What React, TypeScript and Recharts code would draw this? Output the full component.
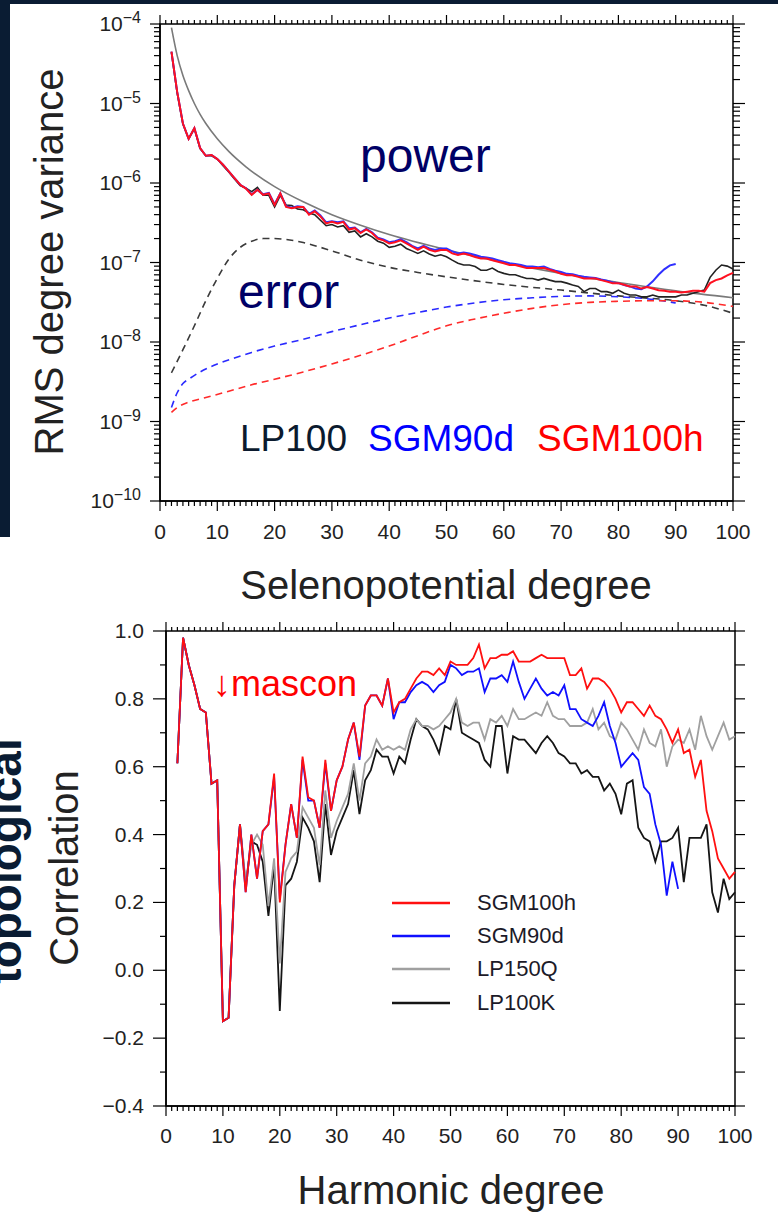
import React from 'react'
import { LineChart, Line, XAxis, YAxis, ReferenceArea, Legend } from 'recharts'

const NAVY = '#0a1c33'
const FONT = '"Liberation Sans", Arial, Helvetica, sans-serif'

// plot boxes (px)
const PW1 = 573
const PH1 = 477
const PW2 = 569
const PH2 = 475

// harmonic degrees
const DEG = Array.from({ length: 99 }, (_, i) => i + 2)
const DEG_TICKS = Array.from({ length: 101 }, (_, i) => i)

// ---- top panel: RMS degree variance ----
const RED_POW = [
  4.5e-5, 1.4e-5, 5.6e-6, 3.6e-6, 4.9e-6, 2.75e-6, 2.2e-6, 2.25e-6, 2.0e-6, 1.7e-6,
  1.4e-6, 1.15e-6, 9.5e-7, 8.5e-7, 7.1e-7, 8.2e-7, 7.1e-7, 7.4e-7, 5.3e-7, 7.4e-7,
  5.0e-7, 4.8e-7, 5.0e-7, 5.0e-7, 4.0e-7, 4.4e-7, 3.8e-7, 3.1e-7, 3.25e-7, 3.1e-7,
  3.25e-7, 2.6e-7, 2.7e-7, 2.35e-7, 2.6e-7, 2.35e-7, 2.0e-7, 1.9e-7, 1.74e-7, 1.8e-7,
  1.9e-7, 1.74e-7, 1.58e-7, 1.44e-7, 1.58e-7, 1.44e-7, 1.38e-7, 1.44e-7, 1.44e-7, 1.3e-7,
  1.24e-7, 1.3e-7, 1.24e-7, 1.17e-7, 1.12e-7, 1.12e-7, 1.07e-7, 1.02e-7, 9.8e-8, 9.3e-8,
  9.3e-8, 8.9e-8, 8.5e-8, 8.5e-8, 8.5e-8, 8.5e-8, 8.1e-8, 7.7e-8, 7.2e-8, 6.9e-8,
  6.9e-8, 6.6e-8, 6.3e-8, 6.3e-8, 6.3e-8, 6.0e-8, 5.75e-8, 5.5e-8, 5.5e-8, 5.25e-8,
  5.0e-8, 5.0e-8, 4.7e-8, 4.9e-8, 4.7e-8, 4.47e-8, 4.4e-8, 4.3e-8, 4.3e-8, 4.2e-8,
  4.3e-8, 4.4e-8, 4.4e-8, 4.3e-8, 5.5e-8, 6.0e-8, 6.3e-8, 6.9e-8, 7.4e-8,
]
const BLUE_POW = [
  4.5e-5, 1.4e-5, 5.6e-6, 3.6e-6, 4.9e-6, 2.75e-6, 2.2e-6, 2.25e-6, 2.0e-6, 1.7e-6,
  1.4e-6, 1.15e-6, 9.5e-7, 8.6e-7, 7.2e-7, 8.2e-7, 7.2e-7, 7.5e-7, 5.4e-7, 7.4e-7,
  5.1e-7, 4.9e-7, 5.1e-7, 5.0e-7, 4.1e-7, 4.5e-7, 3.9e-7, 3.2e-7, 3.3e-7, 3.2e-7,
  3.3e-7, 2.7e-7, 2.75e-7, 2.4e-7, 2.65e-7, 2.4e-7, 2.05e-7, 1.95e-7, 1.8e-7, 1.85e-7,
  1.95e-7, 1.8e-7, 1.62e-7, 1.5e-7, 1.62e-7, 1.5e-7, 1.44e-7, 1.5e-7, 1.5e-7, 1.38e-7,
  1.3e-7, 1.34e-7, 1.3e-7, 1.24e-7, 1.18e-7, 1.16e-7, 1.12e-7, 1.07e-7, 1.02e-7, 9.8e-8,
  9.6e-8, 9.3e-8, 8.9e-8, 8.9e-8, 8.7e-8, 8.9e-8, 8.3e-8, 7.9e-8, 7.6e-8, 7.2e-8,
  7.1e-8, 6.8e-8, 6.6e-8, 6.5e-8, 6.4e-8, 6.1e-8, 5.9e-8, 5.6e-8, 5.5e-8, 5.2e-8,
  5.0e-8, 4.7e-8, 4.6e-8, 5.0e-8, 5.8e-8, 7.0e-8, 8.2e-8, 9.2e-8, 9.6e-8,
]
const BLACK_POW = [
  4.4e-5, 1.35e-5, 5.5e-6, 3.6e-6, 4.8e-6, 2.7e-6, 2.2e-6, 2.2e-6, 2.0e-6, 1.65e-6,
  1.38e-6, 1.12e-6, 9.3e-7, 8.6e-7, 7.8e-7, 8.8e-7, 7.0e-7, 7.0e-7, 5.0e-7, 7.0e-7,
  5.3e-7, 5.2e-7, 4.7e-7, 4.6e-7, 4.2e-7, 4.0e-7, 3.4e-7, 2.9e-7, 3.0e-7, 2.8e-7,
  2.9e-7, 2.4e-7, 2.5e-7, 2.1e-7, 2.3e-7, 2.1e-7, 1.85e-7, 1.75e-7, 1.55e-7, 1.6e-7,
  1.7e-7, 1.5e-7, 1.4e-7, 1.3e-7, 1.4e-7, 1.28e-7, 1.2e-7, 1.25e-7, 1.18e-7, 1.07e-7,
  9.8e-8, 9.3e-8, 9.3e-8, 8.9e-8, 8.0e-8, 8.0e-8, 8.5e-8, 7.7e-8, 7.3e-8, 7.0e-8,
  7.0e-8, 6.6e-8, 6.3e-8, 6.3e-8, 6.0e-8, 6.3e-8, 6.0e-8, 5.75e-8, 5.75e-8, 5.5e-8,
  5.2e-8, 5.0e-8, 4.3e-8, 4.7e-8, 4.7e-8, 4.3e-8, 4.3e-8, 4.1e-8, 4.5e-8, 4.1e-8,
  3.9e-8, 3.9e-8, 3.7e-8, 3.7e-8, 3.9e-8, 3.7e-8, 3.7e-8, 3.7e-8, 3.7e-8, 3.9e-8,
  3.9e-8, 4.1e-8, 4.3e-8, 4.5e-8, 6.5e-8, 8.0e-8, 9.3e-8, 9.0e-8, 8.3e-8,
]
const KAULA_DEG = [2, 3, 4, 5, 6, 7, 8, 10, 12, 15, 20, 25, 30, 35, 40, 50, 60, 70, 80, 90, 100]
const KAULA = [
  9e-5, 4e-5, 2.25e-5, 1.45e-5, 1.0e-5, 7.3e-6, 5.6e-6, 3.6e-6, 2.5e-6, 1.6e-6,
  9e-7, 5.8e-7, 4.0e-7, 2.95e-7, 2.25e-7, 1.45e-7, 1.0e-7, 7.3e-8, 5.6e-8, 4.4e-8, 3.6e-8,
]
const BLACK_ERR_DEG = [2, 4, 6, 8, 10, 12, 14, 16, 18, 20, 22, 25, 30, 35, 40, 45, 50, 60, 70, 80, 90, 95, 100]
const BLACK_ERR = [
  4.1e-9, 8e-9, 1.6e-8, 3.3e-8, 6.3e-8, 1.1e-7, 1.55e-7, 1.85e-7, 2.0e-7, 2.0e-7, 1.95e-7, 1.78e-7,
  1.4e-7, 1.07e-7, 8.7e-8, 7.5e-8, 6.6e-8, 5.3e-8, 4.5e-8, 3.8e-8, 3.3e-8, 2.9e-8, 2.3e-8,
]
const BLUE_ERR_DEG = [2, 3, 4, 5, 7, 10, 13, 16, 20, 25, 30, 35, 40, 45, 50, 55, 60, 65, 70, 75, 80, 85, 90]
const BLUE_ERR = [
  1.5e-9, 2.3e-9, 3.0e-9, 3.4e-9, 4.2e-9, 5.3e-9, 6.3e-9, 7.4e-9, 8.9e-9, 1.08e-8, 1.35e-8, 1.65e-8,
  2.0e-8, 2.35e-8, 2.75e-8, 3.1e-8, 3.4e-8, 3.6e-8, 3.75e-8, 3.8e-8, 3.7e-8, 3.5e-8, 3.1e-8,
]
const RED_ERR_DEG = [2, 3, 5, 8, 12, 16, 20, 25, 30, 35, 40, 45, 50, 55, 60, 65, 70, 75, 80, 85, 90, 95, 100]
const RED_ERR = [
  1.3e-9, 1.5e-9, 1.75e-9, 2.0e-9, 2.4e-9, 2.9e-9, 3.4e-9, 4.2e-9, 5.3e-9, 6.8e-9, 8.9e-9, 1.2e-8,
  1.6e-8, 1.95e-8, 2.3e-8, 2.65e-8, 2.95e-8, 3.15e-8, 3.25e-8, 3.3e-8, 3.3e-8, 3.15e-8, 2.8e-8,
]
const LOG_EXP = [-10, -9, -8, -7, -6, -5]
const MANT = [1, 2, 3, 4, 5, 6, 7, 8, 9]
const LOG_TICKS = [...LOG_EXP.flatMap(e => MANT.map(m => m * 10 ** e)), 1e-4]

// ---- bottom panel: correlation ----
const RED_COR = [
  0.61, 0.98, 0.90, 0.84, 0.77, 0.76, 0.55, 0.56, -0.15, -0.14,
  0.25, 0.43, 0.23, 0.40, 0.27, 0.41, 0.43, 0.58, 0.20, 0.37,
  0.49, 0.39, 0.63, 0.51, 0.50, 0.42, 0.62, 0.47, 0.56, 0.60,
  0.68, 0.73, 0.63, 0.78, 0.81, 0.81, 0.78, 0.86, 0.76, 0.79,
  0.80, 0.83, 0.86, 0.88, 0.88, 0.87, 0.89, 0.87, 0.91, 0.90,
  0.90, 0.90, 0.92, 0.96, 0.89, 0.92, 0.92, 0.93, 0.93, 0.94,
  0.91, 0.91, 0.91, 0.92, 0.93, 0.92, 0.92, 0.92, 0.92, 0.87,
  0.87, 0.89, 0.83, 0.86, 0.86, 0.85, 0.83, 0.80, 0.76, 0.79,
  0.79, 0.77, 0.75, 0.78, 0.75, 0.74, 0.71, 0.67, 0.71, 0.64,
  0.65, 0.57, 0.62, 0.47, 0.41, 0.33, 0.30, 0.27, 0.29,
]
const BLUE_COR = [
  0.61, 0.98, 0.90, 0.84, 0.77, 0.76, 0.55, 0.56, -0.15, -0.14,
  0.25, 0.43, 0.23, 0.40, 0.27, 0.41, 0.43, 0.57, 0.21, 0.37,
  0.49, 0.39, 0.62, 0.50, 0.50, 0.42, 0.61, 0.47, 0.56, 0.60,
  0.68, 0.73, 0.62, 0.78, 0.81, 0.81, 0.78, 0.86, 0.74, 0.79,
  0.79, 0.82, 0.84, 0.85, 0.84, 0.82, 0.84, 0.85, 0.90, 0.89,
  0.87, 0.88, 0.88, 0.89, 0.82, 0.86, 0.86, 0.87, 0.85, 0.91,
  0.85, 0.80, 0.83, 0.86, 0.83, 0.81, 0.82, 0.81, 0.84, 0.77,
  0.77, 0.74, 0.73, 0.72, 0.75, 0.79, 0.72, 0.67, 0.60, 0.62,
  0.64, 0.62, 0.54, 0.52, 0.43, 0.37, 0.22, 0.32, 0.24,
]
const GRAY_COR = [
  0.61, 0.98, 0.90, 0.84, 0.77, 0.76, 0.55, 0.56, -0.15, -0.14,
  0.25, 0.43, 0.26, 0.37, 0.40, 0.37, 0.19, 0.33, 0.02, 0.29,
  0.33, 0.35, 0.48, 0.45, 0.42, 0.31, 0.53, 0.39, 0.44, 0.48,
  0.52, 0.61, 0.50, 0.61, 0.63, 0.68, 0.65, 0.66, 0.65, 0.66,
  0.65, 0.71, 0.74, 0.72, 0.72, 0.71, 0.72, 0.74, 0.76, 0.80,
  0.73, 0.72, 0.73, 0.73, 0.68, 0.74, 0.73, 0.75, 0.72, 0.77,
  0.74, 0.74, 0.75, 0.76, 0.75, 0.79, 0.75, 0.74, 0.74, 0.72,
  0.72, 0.72, 0.73, 0.77, 0.71, 0.73, 0.69, 0.68, 0.73, 0.71,
  0.68, 0.65, 0.71, 0.67, 0.66, 0.71, 0.60, 0.66, 0.68, 0.67,
  0.71, 0.65, 0.75, 0.69, 0.65, 0.69, 0.73, 0.68, 0.69,
]
const BLACK_COR = [
  0.61, 0.98, 0.90, 0.84, 0.77, 0.76, 0.55, 0.56, -0.15, -0.14,
  0.25, 0.43, 0.25, 0.38, 0.37, 0.32, 0.16, 0.31, -0.12, 0.25,
  0.27, 0.32, 0.45, 0.42, 0.38, 0.26, 0.49, 0.34, 0.41, 0.45,
  0.49, 0.59, 0.46, 0.56, 0.59, 0.65, 0.63, 0.63, 0.58, 0.63,
  0.61, 0.68, 0.74, 0.72, 0.71, 0.68, 0.64, 0.72, 0.71, 0.80,
  0.70, 0.69, 0.68, 0.67, 0.62, 0.60, 0.72, 0.72, 0.58, 0.69,
  0.68, 0.68, 0.66, 0.64, 0.67, 0.69, 0.67, 0.64, 0.63, 0.61,
  0.61, 0.58, 0.59, 0.57, 0.57, 0.53, 0.55, 0.52, 0.46, 0.55,
  0.56, 0.42, 0.39, 0.38, 0.32, 0.38, 0.38, 0.39, 0.42, 0.26,
  0.39, 0.39, 0.39, 0.43, 0.23, 0.17, 0.27, 0.21, 0.23,
]
const COR_TICKS = [-0.4, -0.3, -0.2, -0.1, 0, 0.1, 0.2, 0.3, 0.4, 0.5, 0.6, 0.7, 0.8, 0.9, 1.0]
const LEGEND_ORDER = ['SGM100h', 'SGM90d', 'LP150Q', 'LP100K']

const pts = (ns: number[], vs: number[]) => vs.map((v, i) => ({ n: ns[i], v }))

const tickText = { fontFamily: FONT, fontSize: 21, fill: '#222' }

function makeXTick(ph: number, labelDy: number) {
  return (props: any) => {
    const { x, y, payload } = props
    const major = payload.value % 10 === 0
    return (
      <g>
        <line x1={x} x2={x} y1={y} y2={y + (major ? 10 : 5)} stroke="#000" strokeWidth={1.2} />
        <line x1={x} x2={x} y1={y - ph} y2={y - ph - (major ? 9 : 4)} stroke="#000" strokeWidth={1.2} />
        {major && (
          <text x={x} y={y + labelDy} textAnchor="middle" {...tickText}>{payload.value}</text>
        )}
      </g>
    )
  }
}

function LogTick(props: any) {
  const { x, y, payload } = props
  const lg = Math.log10(payload.value)
  const e = Math.round(lg)
  const major = Math.abs(lg - e) < 1e-6
  return (
    <g>
      <line x1={x} x2={x - (major ? 10 : 6)} y1={y} y2={y} stroke="#000" strokeWidth={1.2} />
      <line x1={x + PW1} x2={x + PW1 + (major ? 12 : 7)} y1={y} y2={y} stroke="#000" strokeWidth={1.2} />
      {major && (
        <text x={x - 19} y={y + 7} textAnchor="end" {...tickText}>
          10<tspan dy={-8} fontSize={16}>{'\u2212' + -e}</tspan>
        </text>
      )}
    </g>
  )
}

function CorTick(props: any) {
  const { x, y, payload } = props
  const v = payload.value
  const major = Math.round(v * 10) % 2 === 0
  const label = (v < 0 ? '\u2212' : '') + Math.abs(v).toFixed(1)
  return (
    <g>
      <line x1={x} x2={x - (major ? 13 : 6)} y1={y} y2={y} stroke="#000" strokeWidth={1.2} />
      <line x1={x + PW2} x2={x + PW2 + 10} y1={y} y2={y} stroke="#000" strokeWidth={1.2} />
      {major && (
        <text x={x - 22} y={y + 7} textAnchor="end" {...tickText}>{label}</text>
      )}
    </g>
  )
}

function CorLegend(props: any) {
  const payload: any[] = props.payload || []
  return (
    <div style={{ fontFamily: FONT }}>
      {LEGEND_ORDER.map(name => {
        const item = payload.find(p => p.value === name)
        return (
          <div key={name} style={{ display: 'flex', alignItems: 'center', height: 33.3 }}>
            <svg width={58} height={4} style={{ display: 'block' }}>
              <line x1={0} x2={58} y1={2} y2={2} stroke={item ? item.color : '#000'} strokeWidth={2.5} />
            </svg>
            <span style={{ marginLeft: 27, fontSize: 22, color: '#1c1a28', lineHeight: '24px' }}>{name}</span>
          </div>
        )
      })}
    </div>
  )
}

export default function App() {
  return (
    <div style={{ position: 'absolute', left: 0, top: 0, width: 778, height: 1214, background: '#fff', overflow: 'hidden' }}>
      <div style={{ position: 'absolute', left: 0, top: 0, width: 778, height: 4, background: NAVY }} />
      <div style={{ position: 'absolute', left: 0, top: 0, width: 10, height: 537, background: NAVY }} />

      <div style={{ position: 'absolute', left: 0, top: 0 }}>
        <LineChart width={778} height={600} margin={{ top: 24, right: 45, left: 100, bottom: 59 }}>
          <XAxis dataKey="n" type="number" domain={[0, 100]} ticks={DEG_TICKS} interval={0}
            tick={makeXTick(PH1, 38)} tickLine={false} tickSize={0} tickMargin={0} height={40}
            axisLine={{ stroke: '#000', strokeWidth: 1.5 }} allowDuplicatedCategory={false} />
          <YAxis type="number" scale="log" domain={[1e-10, 1e-4]} allowDataOverflow ticks={LOG_TICKS}
            interval={0} tick={LogTick} tickLine={false} tickSize={0} tickMargin={0} width={60}
            axisLine={{ stroke: '#000', strokeWidth: 1.5 }} />
          <ReferenceArea x1={0} x2={100} y1={1e-10} y2={1e-4} fill="none" stroke="#000" strokeWidth={1.5} ifOverflow="visible" />
          <Line data={pts(BLACK_ERR_DEG, BLACK_ERR)} dataKey="v" type="monotone" stroke="#3a3a3a" strokeWidth={1.6}
            strokeDasharray="7 5" dot={false} activeDot={false} isAnimationActive={false} />
          <Line data={pts(BLUE_ERR_DEG, BLUE_ERR)} dataKey="v" type="monotone" stroke="#2a2aff" strokeWidth={1.6}
            strokeDasharray="7 5" dot={false} activeDot={false} isAnimationActive={false} />
          <Line data={pts(RED_ERR_DEG, RED_ERR)} dataKey="v" type="monotone" stroke="#ff2a2a" strokeWidth={1.6}
            strokeDasharray="7 5" dot={false} activeDot={false} isAnimationActive={false} />
          <Line data={pts(KAULA_DEG, KAULA)} dataKey="v" type="monotone" stroke="#7a7a7a" strokeWidth={1.6}
            dot={false} activeDot={false} isAnimationActive={false} />
          <Line data={pts(DEG, BLACK_POW)} dataKey="v" stroke="#222" strokeWidth={1.6}
            dot={false} activeDot={false} isAnimationActive={false} />
          <Line data={pts(DEG, BLUE_POW)} dataKey="v" stroke="#3030ff" strokeWidth={2}
            dot={false} activeDot={false} isAnimationActive={false} />
          <Line data={pts(DEG, RED_POW)} dataKey="v" stroke="#ff1020" strokeWidth={2}
            dot={false} activeDot={false} isAnimationActive={false} />
        </LineChart>
      </div>

      <div style={{ position: 'absolute', left: 0, top: 600 }}>
        <LineChart width={778} height={614} margin={{ top: 31, right: 43, left: 106, bottom: 68 }}>
          <XAxis dataKey="n" type="number" domain={[0, 100]} ticks={DEG_TICKS} interval={0}
            tick={makeXTick(PH2, 37)} tickLine={false} tickSize={0} tickMargin={0} height={40}
            axisLine={{ stroke: '#000', strokeWidth: 1.5 }} />
          <YAxis type="number" domain={[-0.4, 1.0]} allowDataOverflow ticks={COR_TICKS} interval={0}
            tick={CorTick} tickLine={false} tickSize={0} tickMargin={0} width={60}
            axisLine={{ stroke: '#000', strokeWidth: 1.5 }} />
          <ReferenceArea x1={0} x2={100} y1={-0.4} y2={1.0} fill="none" stroke="#000" strokeWidth={1.5} ifOverflow="visible" />
          <Legend layout="vertical" align="center" verticalAlign="middle" content={<CorLegend />}
            wrapperStyle={{ left: 392, top: 286, width: 220, height: 134 }} />
          <Line data={pts(DEG, BLACK_COR)} dataKey="v" name="LP100K" stroke="#151515" strokeWidth={1.8}
            dot={false} activeDot={false} isAnimationActive={false} />
          <Line data={pts(DEG, GRAY_COR)} dataKey="v" name="LP150Q" stroke="#a0a0a0" strokeWidth={1.8}
            dot={false} activeDot={false} isAnimationActive={false} />
          <Line data={pts(DEG, BLUE_COR)} dataKey="v" name="SGM90d" stroke="#1010ff" strokeWidth={1.8}
            dot={false} activeDot={false} isAnimationActive={false} />
          <Line data={pts(DEG, RED_COR)} dataKey="v" name="SGM100h" stroke="#ff1010" strokeWidth={1.8}
            dot={false} activeDot={false} isAnimationActive={false} />
        </LineChart>
      </div>

      <svg width={778} height={1214} style={{ position: 'absolute', left: 0, top: 0, pointerEvents: 'none' }}
        fontFamily={FONT}>
        <text x={63} y={262} transform="rotate(-90 63 262)" textAnchor="middle" fontSize={40} fill="#222">RMS degree variance</text>
        <text x={446} y={599} textAnchor="middle" fontSize={40} fill="#222">Selenopotential degree</text>
        <text x={360} y={172} fontSize={48} fill="#000066">power</text>
        <text x={238} y={308} fontSize={48} fill="#000066">error</text>
        <text x={240} y={451} fontSize={37} fill="#0b1a2e">LP100</text>
        <text x={368} y={451} fontSize={37} fill="#0000ff">SGM90d</text>
        <text x={537} y={451} fontSize={37} fill="#ff0000">SGM100h</text>

        <text x={21} y={861} transform="rotate(-90 21 861)" textAnchor="middle" fontSize={46} fontWeight="bold" fill={NAVY}>topological</text>
        <text x={78} y={868} transform="rotate(-90 78 868)" textAnchor="middle" fontSize={40} fill="#222">Correlation</text>
        <text x={213} y={696} fontSize={36} fill="#ff0000">↓mascon</text>
        <text x={451} y={1204} textAnchor="middle" fontSize={40} fill="#222">Harmonic degree</text>
      </svg>
    </div>
  )
}
